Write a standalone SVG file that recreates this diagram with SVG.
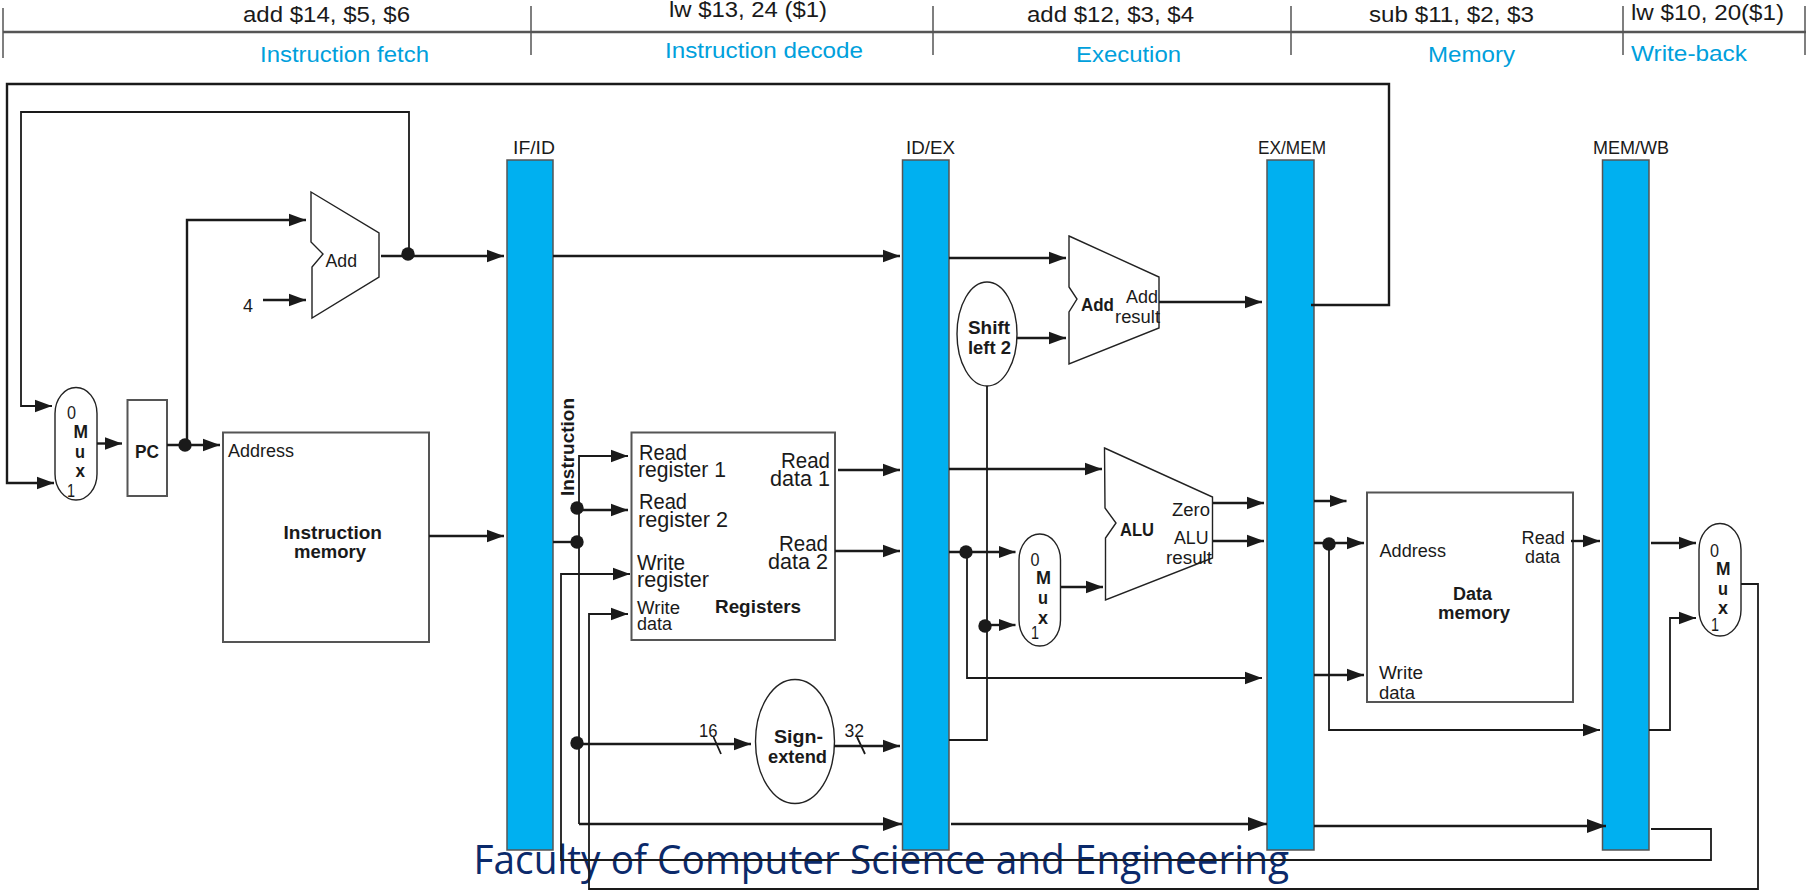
<svg xmlns="http://www.w3.org/2000/svg" width="1806" height="890" viewBox="0 0 1806 890">
<style>
text{font-family:"Liberation Sans",Arial,sans-serif;fill:#1a1a1a;font-size:17.500px}
text.b{font-weight:bold}
text.h{font-size:22px}
text.s{font-size:22px;fill:#00a0dc}
text.r{font-size:22px}
.bar{fill:#00b0f0;stroke:#555;stroke-width:1.5}
.box{fill:#fff;stroke:#555;stroke-width:2}
.out{fill:#fff;stroke:#222;stroke-width:1.4}
.c{fill:none;stroke:#1a1a1a;stroke-width:2.400;stroke-linejoin:miter}
.a{marker-end:url(#ah)}
.k{marker-end:url(#ak)}
.t{stroke-width:1.800}
.tick{fill:none;stroke:#555;stroke-width:1.5}
.hl{fill:none;stroke:#555;stroke-width:2.5}
.d{fill:#1a1a1a}
</style>
<defs>
<marker id="ah" markerUnits="userSpaceOnUse" markerWidth="18" markerHeight="14" refX="17" refY="7" orient="auto"><path d="M0 .8L17 7L0 13.200Z" fill="#1a1a1a"/></marker>
<marker id="ak" markerUnits="userSpaceOnUse" markerWidth="20" markerHeight="16" refX="19" refY="8" orient="auto"><path d="M0 1L19 8L0 15Z" fill="#1a1a1a"/></marker>
</defs>
<rect width="1806" height="890" fill="#fff"/>

<g id="stages">
<path class="hl" d="M3 32H1806"/>
<path class="tick" d="M3 8V58M531 6V55M933 6V55M1291 6V55M1623 6V55M1805 6V55"/>
<text class="h" x="243" y="22" textLength="167" lengthAdjust="spacingAndGlyphs">add $14, $5, $6</text>
<text class="h" x="669" y="17" textLength="158" lengthAdjust="spacingAndGlyphs">lw $13, 24 ($1)</text>
<text class="h" x="1027" y="22" textLength="167" lengthAdjust="spacingAndGlyphs">add $12, $3, $4</text>
<text class="h" x="1369" y="22" textLength="165" lengthAdjust="spacingAndGlyphs">sub $11, $2, $3</text>
<text class="h" x="1631" y="20" textLength="153" lengthAdjust="spacingAndGlyphs">lw $10, 20($1)</text>
<text class="s" x="260" y="62" textLength="169" lengthAdjust="spacingAndGlyphs">Instruction fetch</text>
<text class="s" x="665" y="58" textLength="198" lengthAdjust="spacingAndGlyphs">Instruction decode</text>
<text class="s" x="1076" y="62" textLength="105" lengthAdjust="spacingAndGlyphs">Execution</text>
<text class="s" x="1428" y="62" textLength="87" lengthAdjust="spacingAndGlyphs">Memory</text>
<text class="s" x="1631" y="61" textLength="116" lengthAdjust="spacingAndGlyphs">Write-back</text>
</g>

<g id="if-id"><rect class="bar" x="507" y="160" width="46" height="690"/><text x="513" y="154" textLength="42" lengthAdjust="spacingAndGlyphs">IF/ID</text></g>
<g id="id-ex"><rect class="bar" x="902.500" y="160" width="46.500" height="690"/><text x="906" y="154" textLength="49" lengthAdjust="spacingAndGlyphs">ID/EX</text></g>
<g id="ex-mem"><rect class="bar" x="1267" y="160" width="47" height="690"/><text x="1258" y="154" textLength="68" lengthAdjust="spacingAndGlyphs">EX/MEM</text></g>
<g id="mem-wb"><rect class="bar" x="1602.500" y="160" width="46.500" height="690"/><text x="1593" y="154" textLength="76" lengthAdjust="spacingAndGlyphs">MEM/WB</text></g>

<g id="adder-pc">
<path class="out" d="M311 192L379 233V277L312 318V267L323 254L311 242Z"/>
<text x="325.500" y="267" textLength="31.500" lengthAdjust="spacingAndGlyphs">Add</text>
</g>
<text id="const-4" x="243" y="312" textLength="10" lengthAdjust="spacingAndGlyphs">4</text>

<g id="mux-pc">
<rect class="out" x="55" y="387.500" width="42" height="112.500" rx="21" ry="26"/>
<text x="67" y="419" textLength="9" lengthAdjust="spacingAndGlyphs">0</text>
<text class="b" x="73.500" y="438" textLength="14.500" lengthAdjust="spacingAndGlyphs">M</text>
<text class="b" x="75" y="458" textLength="10" lengthAdjust="spacingAndGlyphs">u</text>
<text class="b" x="75.500" y="477" textLength="9.500" lengthAdjust="spacingAndGlyphs">x</text>
<text x="67" y="497" textLength="8" lengthAdjust="spacingAndGlyphs">1</text>
</g>

<g id="pc">
<rect class="box" x="127.500" y="400" width="39.500" height="96"/>
<text class="b" x="135" y="458" textLength="24" lengthAdjust="spacingAndGlyphs">PC</text>
</g>

<g id="instruction-memory">
<rect class="box" x="223" y="432.500" width="206" height="209.500"/>
<text x="228" y="457" textLength="66" lengthAdjust="spacingAndGlyphs">Address</text>
<text class="b" x="283.500" y="539" textLength="98.500" lengthAdjust="spacingAndGlyphs">Instruction</text>
<text class="b" x="294" y="558" textLength="72" lengthAdjust="spacingAndGlyphs">memory</text>
</g>

<g id="registers">
<rect class="box" x="631.500" y="432.500" width="203.500" height="207.500"/>
<text class="r" x="639" y="460" textLength="48" lengthAdjust="spacingAndGlyphs">Read</text>
<text class="r" x="638" y="477" textLength="88" lengthAdjust="spacingAndGlyphs">register 1</text>
<text class="r" x="639" y="509" textLength="48" lengthAdjust="spacingAndGlyphs">Read</text>
<text class="r" x="638" y="527" textLength="90" lengthAdjust="spacingAndGlyphs">register 2</text>
<text class="r" x="637" y="570" textLength="48" lengthAdjust="spacingAndGlyphs">Write</text>
<text class="r" x="637" y="587" textLength="72" lengthAdjust="spacingAndGlyphs">register</text>
<text x="637" y="614" textLength="43" lengthAdjust="spacingAndGlyphs">Write</text>
<text x="637" y="630" textLength="35" lengthAdjust="spacingAndGlyphs">data</text>
<text class="b" x="715" y="613" textLength="86" lengthAdjust="spacingAndGlyphs">Registers</text>
<text class="r" x="781" y="468" textLength="49" lengthAdjust="spacingAndGlyphs">Read</text>
<text class="r" x="770" y="486" textLength="60" lengthAdjust="spacingAndGlyphs">data 1</text>
<text class="r" x="779" y="551" textLength="49" lengthAdjust="spacingAndGlyphs">Read</text>
<text class="r" x="768" y="569" textLength="60" lengthAdjust="spacingAndGlyphs">data 2</text>
</g>
<text id="instruction-label" class="b" transform="translate(574 496) rotate(-90)" textLength="98" lengthAdjust="spacingAndGlyphs">Instruction</text>

<g id="sign-extend">
<ellipse class="out" cx="795" cy="741.500" rx="39.500" ry="62"/>
<text class="b" x="774" y="743" textLength="49" lengthAdjust="spacingAndGlyphs">Sign-</text>
<text class="b" x="768" y="763" textLength="59" lengthAdjust="spacingAndGlyphs">extend</text>
</g>

<g id="shift-left">
<ellipse class="out" cx="987" cy="334" rx="30" ry="52"/>
<text class="b" x="968" y="334" textLength="42" lengthAdjust="spacingAndGlyphs">Shift</text>
<text class="b" x="968" y="354" textLength="43" lengthAdjust="spacingAndGlyphs">left 2</text>
</g>

<g id="adder-branch">
<path class="out" d="M1069 236L1159 277V328L1069 364V312L1077 299L1069 287Z"/>
<text class="b" x="1081" y="311" textLength="33" lengthAdjust="spacingAndGlyphs">Add</text>
<text x="1126" y="303" textLength="32" lengthAdjust="spacingAndGlyphs">Add</text>
<text x="1115" y="323" textLength="45" lengthAdjust="spacingAndGlyphs">result</text>
</g>

<g id="mux-alu">
<rect class="out" x="1019" y="534" width="41.500" height="112" rx="20.700" ry="26"/>
<text x="1030.500" y="566" textLength="9" lengthAdjust="spacingAndGlyphs">0</text>
<text class="b" x="1036" y="584" textLength="15" lengthAdjust="spacingAndGlyphs">M</text>
<text class="b" x="1038" y="604" textLength="10" lengthAdjust="spacingAndGlyphs">u</text>
<text class="b" x="1038" y="624" textLength="10" lengthAdjust="spacingAndGlyphs">x</text>
<text x="1031" y="639" textLength="8" lengthAdjust="spacingAndGlyphs">1</text>
</g>

<g id="alu">
<path class="out" d="M1104.500 448L1212.500 497V558L1105.500 600V538L1116 523L1105 508Z"/>
<text class="b" x="1120" y="536" textLength="34" lengthAdjust="spacingAndGlyphs">ALU</text>
<text x="1172" y="516" textLength="38" lengthAdjust="spacingAndGlyphs">Zero</text>
<text x="1174" y="544" textLength="34.500" lengthAdjust="spacingAndGlyphs">ALU</text>
<text x="1166" y="564" textLength="46" lengthAdjust="spacingAndGlyphs">result</text>
</g>

<g id="data-memory">
<rect class="box" x="1367" y="492.500" width="206" height="209.500"/>
<text x="1379.500" y="557" textLength="66.500" lengthAdjust="spacingAndGlyphs">Address</text>
<text x="1521.500" y="544" textLength="43.500" lengthAdjust="spacingAndGlyphs">Read</text>
<text x="1525" y="563" textLength="35" lengthAdjust="spacingAndGlyphs">data</text>
<text class="b" x="1453" y="600" textLength="39" lengthAdjust="spacingAndGlyphs">Data</text>
<text class="b" x="1438" y="619" textLength="72" lengthAdjust="spacingAndGlyphs">memory</text>
<text x="1379" y="679" textLength="44" lengthAdjust="spacingAndGlyphs">Write</text>
<text x="1379" y="699" textLength="36" lengthAdjust="spacingAndGlyphs">data</text>
</g>

<g id="mux-wb">
<rect class="out" x="1699" y="523.500" width="42" height="112.500" rx="21" ry="26"/>
<text x="1710" y="557" textLength="9" lengthAdjust="spacingAndGlyphs">0</text>
<text class="b" x="1716" y="575" textLength="14.500" lengthAdjust="spacingAndGlyphs">M</text>
<text class="b" x="1718" y="595" textLength="10" lengthAdjust="spacingAndGlyphs">u</text>
<text class="b" x="1718" y="614" textLength="10" lengthAdjust="spacingAndGlyphs">x</text>
<text x="1711" y="631" textLength="8" lengthAdjust="spacingAndGlyphs">1</text>
</g>

<text id="footer" x="473.500" y="874" style="font-family:'Open Sans','Noto Sans',sans-serif;font-weight:400;font-size:41px;fill:#0b2a6b" textLength="815.500" lengthAdjust="spacingAndGlyphs">Faculty of Computer Science and Engineering</text>

<g id="bit-labels">
<text x="699" y="737" textLength="18.500" lengthAdjust="spacingAndGlyphs">16</text>
<text x="844.500" y="737" textLength="19.500" lengthAdjust="spacingAndGlyphs">32</text>
</g>

<g id="connectors">
<path class="c a" d="M1311 305H1389V84H7V483H54"/>
<path class="c a t" d="M409 254V112H21V406H52"/>
<path class="c a" d="M187 445V220H306"/>
<path class="c a" d="M263 300H306"/>
<path class="c a" d="M381 256H504"/>
<path class="c a" d="M553 256H900"/>
<path class="c a" d="M97 443.500H122"/>
<path class="c a" d="M167 445H220"/>
<path class="c a" d="M429 536H504"/>
<path class="c" d="M553 542H579"/>
<path class="c a t" d="M579 824V456H628"/>
<path class="c a" d="M579 510H628"/>
<path class="c a" d="M579 744H751"/>
<path class="c k" d="M579 824H902"/>
<path class="c k" d="M951 824H1267"/>
<path class="c k" d="M1314 826H1606"/>
<path class="c a t" d="M1651 829H1711V860H561V574H630"/>
<path class="c a t" d="M1741 584H1758V889H589V614H628"/>
<path class="c a" d="M838 470H900"/>
<path class="c a" d="M835 551H900"/>
<path class="c a" d="M834 746H900"/>
<path class="c t" d="M713.500 737L721 754M857 737L865 754"/>
<path class="c a" d="M949 258H1066"/>
<path class="c a" d="M1017 338H1066"/>
<path class="c a" d="M1159 302H1262"/>
<path class="c t" d="M987 386V740H949"/>
<path class="c a" d="M985 625H1015.500"/>
<path class="c a" d="M949 469H1102"/>
<path class="c a" d="M949 552H1015.500"/>
<path class="c a t" d="M967 552V678H1262"/>
<path class="c a" d="M1061 587H1103"/>
<path class="c a" d="M1213 503H1264"/>
<path class="c a" d="M1213 541H1264"/>
<path class="c a" d="M1314 501H1346.500"/>
<path class="c a" d="M1314 543H1364"/>
<path class="c a" d="M1314 675H1364"/>
<path class="c a t" d="M1329 543V730H1600"/>
<path class="c a" d="M1571 541H1600"/>
<path class="c a" d="M1651 543H1696"/>
<path class="c a t" d="M1649 730H1670V618H1696"/>
<circle class="d" cx="408" cy="254" r="6.700"/>
<circle class="d" cx="185" cy="445" r="6.700"/>
<circle class="d" cx="577" cy="508" r="6.700"/>
<circle class="d" cx="577" cy="542" r="6.700"/>
<circle class="d" cx="577" cy="743" r="6.700"/>
<circle class="d" cx="966" cy="552" r="6.700"/>
<circle class="d" cx="985" cy="626" r="6.700"/>
<circle class="d" cx="1329" cy="544" r="6.700"/>
</g>
</svg>
